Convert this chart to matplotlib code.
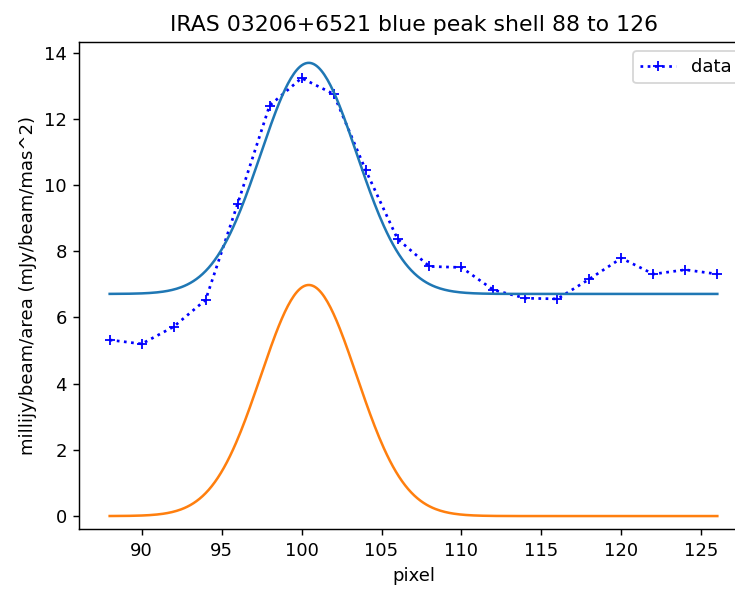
import numpy as np
import matplotlib
matplotlib.use("Agg")
import matplotlib.pyplot as plt

# data
pixels = [88, 90, 92, 94, 96, 98, 100, 102, 104, 106, 108, 110, 112, 114, 116, 118, 120, 122, 124, 126]
flux = [5.32, 5.2, 5.72, 6.53, 9.43, 12.40, 13.23, 12.75, 10.46, 8.37, 7.54, 7.51, 6.83, 6.58, 6.56,
        7.16, 7.79, 7.31, 7.44, 7.31]

# fitted gaussian parameters
baseline = 6.71
amplitude = 6.98
center = 100.45
sigma = 3.0

title = "IRAS 03206+6521 blue peak shell 88 to 126"
xlabel = "pixel"
ylabel = "millijy/beam/area (mJy/beam/mas^2)"

DPI = 130
fig = plt.figure(figsize=(735 / DPI, 599 / DPI), dpi=DPI)
W, H = 735.0, 599.0
left, right, top, bottom = 79.3, 747.7, 42.0, 529.3
ax = fig.add_axes([left / W, 1 - bottom / H, (right - left) / W, (bottom - top) / H])

xf = np.linspace(min(pixels), max(pixels), 400)
gauss = amplitude * np.exp(-(xf - center) ** 2 / (2 * sigma ** 2))

ax.plot(pixels, flux, 'b+:', label='data', lw=1.5)
ax.plot(xf, baseline + gauss, color='C0', lw=1.4)
ax.plot(xf, gauss, color='C1', lw=1.4)

ax.set_xlim(86.1, 127.9)
ax.set_ylim(-0.40, 14.32)
ax.set_title(title, fontsize=12.2)
ax.set_xlabel(xlabel)
ax.set_ylabel(ylabel)
ax.legend(loc='upper right')

fig.savefig("out.png", dpi=DPI)
